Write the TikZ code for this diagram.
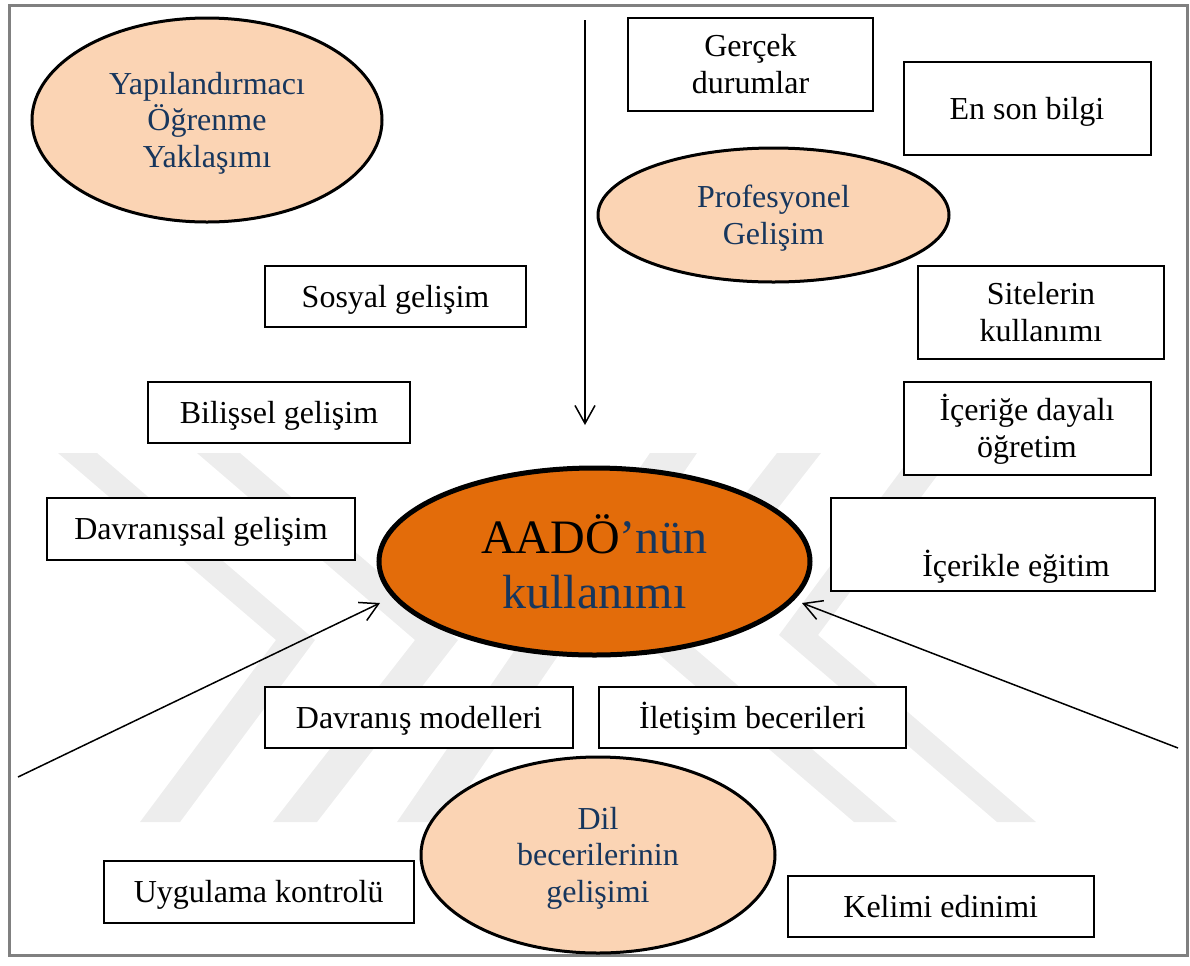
\documentclass[tikz,border=0pt]{standalone}
\usepackage{fontspec}
\setmainfont{Liberation Serif}
\usetikzlibrary{arrows.meta,shapes.geometric}
\definecolor{peach}{HTML}{FBD4B4}
\definecolor{burnt}{HTML}{E36C0A}
\definecolor{navy}{HTML}{17365D}
\definecolor{wmgray}{HTML}{EDEDED}
\definecolor{framegray}{HTML}{808080}
% line strut with the ascent and descent of the serif face
\newcommand{\lnstrut}{\rule[-0.216em]{0pt}{1.107em}}
\begin{document}
\begin{tikzpicture}[x=0.5pt,y=-0.5pt,
  box/.style={rectangle, draw=black, line width=1pt, fill=white, inner sep=0pt,
    align=center, font=\fontsize{16}{18.4}\selectfont},
  oval/.style={ellipse, draw=black, line width=1.5pt, fill=peach, inner sep=0pt,
    align=center, text=navy, font=\fontsize{16}{18.4}\selectfont},
  link/.style={line width=0.75pt, -{Straight Barb[length=9pt,width=10pt]}},
  mark band/.style={fill=wmgray, draw=none}]

\useasboundingbox (0,0) rectangle (1190,965);

% faint background emblem: chevron bands
\fill[mark band] (58,453) -- (97,453) -- (315,640) -- (180,822) -- (140,822) -- (276,640) -- cycle;
\fill[mark band] (197,453) -- (240,453) -- (458,640) -- (317,822) -- (273,822) -- (415,640) -- cycle;
\fill[mark band] (650,453) -- (697,453) -- (444,822) -- (397,822) -- cycle;
\fill[mark band] (1036,822) -- (997,822) -- (779,635) -- (914,453) -- (954,453) -- (818,635) -- cycle;
\fill[mark band] (897,822) -- (854,822) -- (636,635) -- (777,453) -- (821,453) -- (679,635) -- cycle;

% page frame
\draw[framegray, line width=1.5pt] (9.5,5) rectangle (1187,955);

% ellipses
\node[oval, minimum width=175pt, minimum height=102pt] (yapi) at (207,120)
  {\lnstrut Yapılandırmacı\\\lnstrut Öğrenme\\\lnstrut Yaklaşımı};
\node[oval, minimum width=175.5pt, minimum height=67pt] (prof) at (773.5,215)
  {\lnstrut Profesyonel\\\lnstrut Gelişim};
\node[oval, line width=2.5pt, fill=burnt, minimum width=215.5pt, minimum height=93.5pt,
  font=\fontsize{24}{27.6}\selectfont] (aado) at (594.5,561.5)
  {{\color{black}AADÖ}’nün\\kullanımı};
\node[oval, minimum width=177pt, minimum height=98pt] (dil) at (598,855)
  {\lnstrut Dil\\\lnstrut becerilerinin\\\lnstrut gelişimi};

% boxes
\node[box, minimum width=122.5pt, minimum height=46.5pt] (gercek) at (750.5,64.5)
  {\lnstrut Gerçek\\\lnstrut durumlar};
\node[box, minimum width=123.5pt, minimum height=46.5pt] (enson) at (1027,108.5)
  {\lnstrut En son bilgi};
\node[box, minimum width=123.25pt, minimum height=46.5pt] (siteler) at (1041,312.5)
  {\lnstrut Sitelerin\\\lnstrut kullanımı};
\node[box, minimum width=123.5pt, minimum height=46.5pt] (icerige) at (1027,428.5)
  {\lnstrut İçeriğe dayalı\\\lnstrut öğretim};
\node[box, minimum width=162pt, minimum height=46.5pt,
  label={[font=\fontsize{16}{18.4}\selectfont, xshift=11.5pt, yshift=-11pt]center:İçerikle eğitim}]
  (icerikle) at (993,544.5) {};
\node[box, minimum width=130.5pt, minimum height=30.5pt] (sosyal) at (395.5,296.5)
  {\lnstrut Sosyal gelişim};
\node[box, minimum width=131pt, minimum height=30.5pt] (bilissel) at (279,412.5)
  {\lnstrut Bilişsel gelişim};
\node[box, minimum width=154pt, minimum height=31pt] (davranissal) at (201,529)
  {\lnstrut Davranışsal gelişim};
\node[box, minimum width=154pt, minimum height=30.5pt] (modeller) at (419,717.5)
  {\lnstrut Davranış modelleri};
\node[box, minimum width=153.5pt, minimum height=30.5pt] (iletisim) at (752.5,717.5)
  {\lnstrut İletişim becerileri};
\node[box, minimum width=154.75pt, minimum height=31pt] (uygulama) at (258.75,892)
  {\lnstrut Uygulama kontrolü};
\node[box, minimum width=153.25pt, minimum height=30.5pt] (kelimi) at (940.75,906.5)
  {\lnstrut Kelimi edinimi};

% arrows pointing to the central ellipse
\coordinate (topstart) at (585,20);
\coordinate (topend) at (585,425);
\coordinate (leftstart) at (18,777);
\coordinate (lefttip) at (380,603);
\coordinate (rightstart) at (1178,748);
\coordinate (righttip) at (802,603);
\draw[link] (topstart) -- (topend);
\draw[link] (leftstart) -- (lefttip);
\draw[link] (rightstart) -- (righttip);
\end{tikzpicture}
\end{document}
